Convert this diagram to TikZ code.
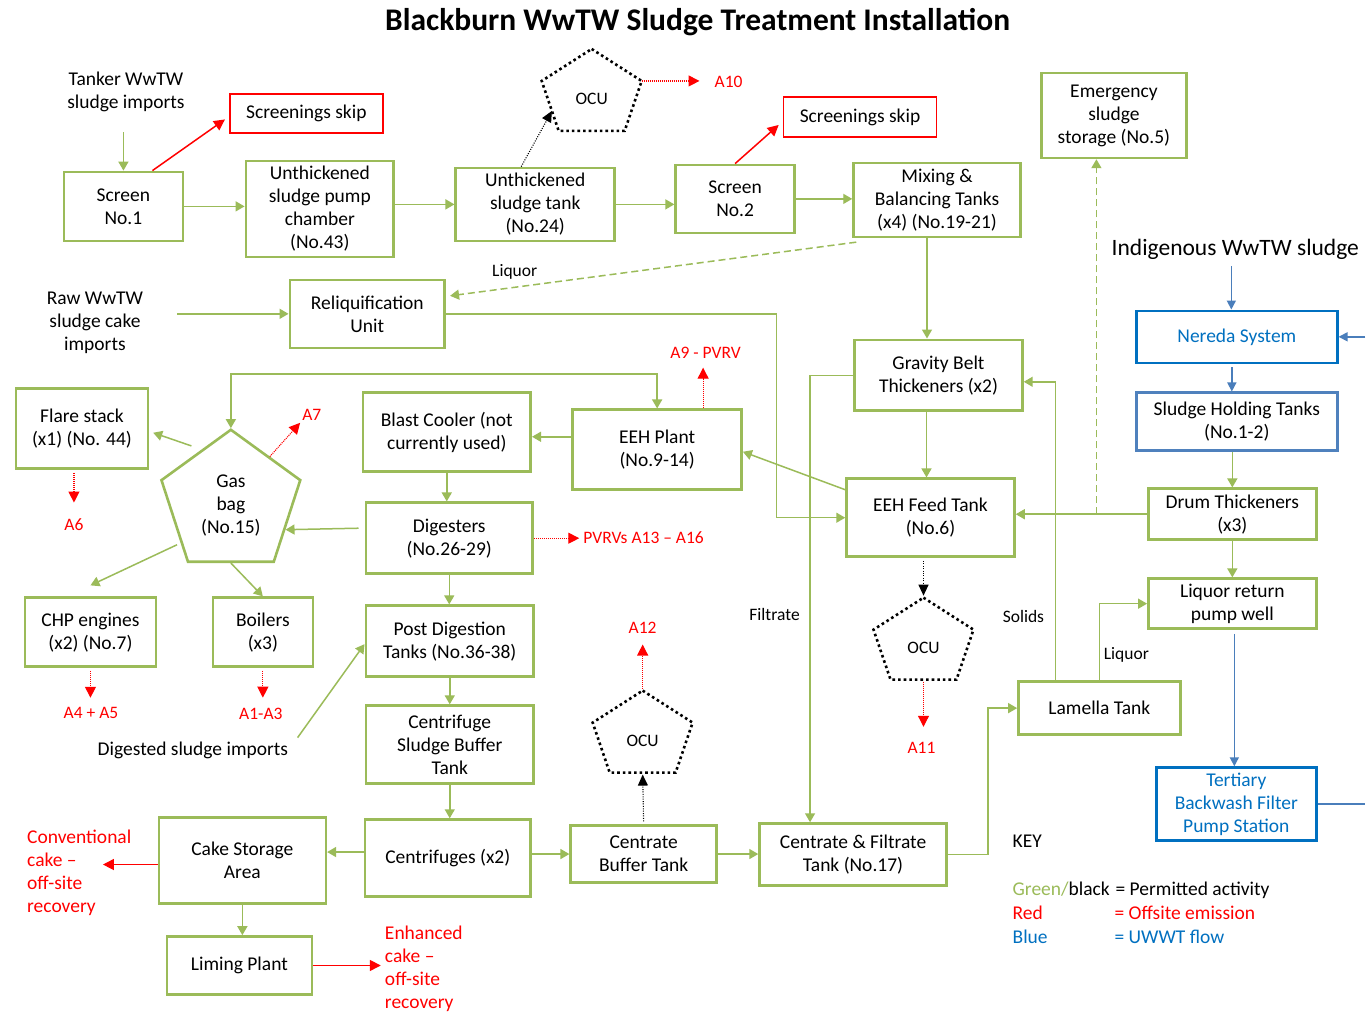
\documentclass[tikz,border=0pt]{standalone}
\usepackage{fontspec}
\setmainfont{Carlito}
\usepackage{tikz}
\usetikzlibrary{arrows.meta,calc,shapes.geometric}
\definecolor{grn}{HTML}{9BBB59}
\definecolor{rd}{HTML}{FF0000}
\definecolor{blu}{HTML}{0070C0}
\definecolor{bluln}{HTML}{4A7EBB}
\definecolor{bluhold}{HTML}{4F81BD}
\newcommand{\bx}{\fontsize{19.5}{23}\selectfont}
\newcommand{\sm}{\fontsize{17.5}{21}\selectfont}
% dotted pentagon round an OCU label
\newcommand{\ocuedge}[1]{%
	\draw[oculine] ($(#1)+(0,-50)$) coordinate (#1-top)
		-- ($(#1)+(50,-18)$) coordinate (#1-ur)
		-- ($(#1)+(33,32)$) coordinate (#1-br)
		-- ($(#1)+(-33,32)$) coordinate (#1-bl)
		-- ($(#1)+(-50,-18)$) coordinate (#1-ul) -- cycle;
	\coordinate (#1-bot) at ($(#1)+(0,32)$);}

\begin{document}
\begin{tikzpicture}[x=1pt, y=-1pt,
	plant/.style={draw=grn, line width=2.6pt, align=center, inner sep=0pt, font=\bx},
	skipbox/.style={draw=rd, line width=1.8pt, inner sep=0pt, font=\bx},
	ububox/.style={draw=blu, line width=2.6pt, align=center, inner sep=0pt, font=\bx, text=blu},
	oculine/.style={draw=black, line width=2.6pt, dash pattern=on 2.6pt off 3pt},
	txt/.style={inner sep=0pt, align=center, font=\bx},
	lbl/.style={inner sep=0pt, font=\sm},
	emit/.style={inner sep=0pt, font=\sm, text=rd},
	flow/.style={draw=grn, line width=1.5pt, -{Triangle[length=9pt,width=10pt]}},
	dashflow/.style={flow, dash pattern=on 7pt off 4pt},
	redflow/.style={draw=rd, line width=1.5pt, -{Triangle[length=11pt,width=11pt]}},
	redline/.style={draw=rd, line width=1.1pt, dash pattern=on 1pt off 1pt, -{Triangle[length=11pt,width=11pt]}},
	blackdot/.style={draw=black, line width=1.1pt, dash pattern=on 1pt off 1.4pt, -{Triangle[length=11pt,width=10pt]}},
	uflow/.style={draw=bluln, line width=1.5pt, -{Triangle[length=9pt,width=9pt]}}]
	\fill[white] (0,0) rectangle (1366,1014);
	\coordinate (rim) at (1366,0);
	\coordinate (convend) at (103,865);

	% texts
	\node[txt, font=\fontsize{31.5}{36}\selectfont\bfseries] (title) at (698,22) {Blackburn WwTW Sludge Treatment Installation};
	\node[txt] (tanker) at (126,92) {Tanker WwTW\\sludge imports};
	\node[txt] (raw) at (95,323) {Raw WwTW\\sludge cake\\imports};
	\node[txt] (digimp) at (193,751) {Digested sludge imports};
	\node[txt, font=\fontsize{23.5}{28}\selectfont] (indig) at (1236,249) {Indigenous WwTW sludge};

	% upper line
	\node[plant, minimum width=119pt, minimum height=69pt] (scr1) at (123.5,206.5) {Screen\\No.1};
	\node[skipbox, minimum width=153pt, minimum height=39pt] (skip1) at (306.5,113.5) {Screenings skip};
	\node[plant, minimum width=148pt, minimum height=96pt] (pumpch) at (320,209) {Unthickened\\sludge pump\\chamber\\(No.43)};
	\node[plant, minimum width=159pt, minimum height=73pt] (uthtank) at (535.5,204.5) {Unthickened\\sludge tank\\(No.24)};
	\node[lbl] (ocu1) at (592,99) {OCU};
	\ocuedge{ocu1}
	\node[plant, minimum width=119pt, minimum height=68pt] (scr2) at (735.5,199) {Screen\\No.2};
	\node[skipbox, minimum width=153pt, minimum height=40pt] (skip2) at (860.5,117) {Screenings skip};
	\node[plant, minimum width=167pt, minimum height=74pt] (mixing) at (937.5,200) {Mixing \&\\Balancing Tanks\\(x4) (No.19-21)};
	\node[plant, minimum width=145pt, minimum height=85pt] (emerg) at (1114.5,115.5) {Emergency\\sludge\\storage (No.5)};
	\node[plant, minimum width=155pt, minimum height=68pt] (reliq) at (367.5,314) {Reliquification\\Unit};

	% right column
	\node[ububox, minimum width=201pt, minimum height=52pt] (nereda) at (1237.5,337) {Nereda System};
	\node[plant, draw=bluhold, minimum width=201pt, minimum height=58pt] (holding) at (1237.5,422) {Sludge Holding Tanks\\(No.1-2)};
	\node[plant, minimum width=168pt, minimum height=51pt] (drum) at (1233,514.5) {Drum Thickeners\\(x3)};
	\node[plant, minimum width=168pt, minimum height=50pt] (liqret) at (1233,604) {Liquor return\\pump well};
	\node[plant, minimum width=162pt, minimum height=53pt] (lamella) at (1100,708.5) {Lamella Tank};
	\node[ububox, minimum width=160pt, minimum height=73pt] (tertiary) at (1237,804.5) {Tertiary\\Backwash Filter\\Pump Station};

	% middle
	\node[plant, minimum width=168pt, minimum height=71pt] (gbt) at (939,375.5) {Gravity Belt\\Thickeners (x2)};
	\node[plant, minimum width=168pt, minimum height=78pt] (eehft) at (931,518) {EEH Feed Tank\\(No.6)};
	\node[lbl] (ocu2) at (924,648) {OCU};
	\ocuedge{ocu2}
	\node[plant, minimum width=187pt, minimum height=62pt] (cft) at (853.5,855) {Centrate \& Filtrate\\Tank (No.17)};
	\node[plant, minimum width=146pt, minimum height=57pt] (cbt) at (644,854.5) {Centrate\\Buffer Tank};
	\node[lbl] (ocu3) at (643,741) {OCU};
	\ocuedge{ocu3}
	\node[plant, minimum width=169pt, minimum height=80pt] (eehp) at (657.5,450) {EEH Plant\\(No.9-14)};
	\node[plant, minimum width=168pt, minimum height=79pt] (blast) at (447,432.5) {Blast Cooler (not\\currently used)};
	\node[plant, minimum width=167pt, minimum height=71pt] (dig) at (449.5,538.5) {Digesters\\(No.26-29)};
	\node[plant, minimum width=168pt, minimum height=71pt] (pdt) at (450,641.5) {Post Digestion\\Tanks (No.36-38)};
	\node[plant, minimum width=168pt, minimum height=78pt] (csbt) at (450,745) {Centrifuge\\Sludge Buffer\\Tank};
	\node[plant, minimum width=166pt, minimum height=77pt] (centrif) at (448,858.5) {Centrifuges (x2)};

	% gas side
	\node[plant, regular polygon, regular polygon sides=5, minimum size=146pt] (gas) at (231,503) {\mbox{}\\[-5pt]Gas\\bag\\(No.15)};
	\node[plant, minimum width=132pt, minimum height=80pt] (flare) at (82,429) {Flare stack\\(x1) (No. 44)};
	\node[plant, minimum width=131pt, minimum height=69pt] (chp) at (90.5,632.5) {CHP engines\\(x2) (No.7)};
	\node[plant, minimum width=100pt, minimum height=69pt] (boil) at (263,632.5) {Boilers\\(x3)};
	\node[plant, minimum width=167pt, minimum height=86pt] (cake) at (242.5,861) {Cake Storage\\Area};
	\node[plant, minimum width=145pt, minimum height=58pt] (liming) at (239.5,966) {Liming Plant};

	% emissions
	\node[emit] (a10) at (729,82) {A10};
	\node[emit] (a9) at (706,353) {A9 - PVRV};
	\node[emit] (a7) at (312,415) {A7};
	\node[emit] (a6) at (74,525) {A6};
	\node[emit] (a45) at (91,713) {A4 + A5};
	\node[emit] (a1) at (261,714) {A1-A3};
	\node[emit] (pvrv) at (644,538) {PVRVs A13 – A16};
	\node[emit] (a12) at (643,628) {A12};
	\node[emit] (a11) at (922,748) {A11};
	\node[txt, anchor=west, align=left, text=rd] (conv) at (27,873) {Conventional\\cake –\\off-site\\recovery};
	\node[txt, anchor=west, align=left, text=rd] (enh) at (385,969.5) {Enhanced\\cake –\\off-site\\recovery};

	% flow labels
	\node[lbl] (liq1) at (515,272) {Liquor};
	\node[lbl] (filt) at (775,615) {Filtrate};
	\node[lbl] (solids) at (1024,617) {Solids};
	\node[lbl] (liq2) at (1127,655) {Liquor};

	% key
	\node[txt, anchor=base west] (key) at (1013,848) {KEY};
	\node[txt, anchor=base west] (kg) at (1013,896) {\textcolor{grn}{Green/}black};
	\node[txt, anchor=base west] (kgt) at (1116,896) {= Permitted activity};
	\node[txt, anchor=base west, text=rd] (kr) at (1013,920) {Red};
	\node[txt, anchor=base west, text=rd] (krt) at (1115,920) {= Offsite emission};
	\node[txt, anchor=base west, text=blu] (kb) at (1013,944) {Blue};
	\node[txt, anchor=base west, text=blu] (kbt) at (1115,944) {= UWWT flow};

	% green flows
	\draw[flow, shorten <=20pt] (tanker.south -| scr1.north) -- (scr1.north);
	\draw[flow] (scr1.east) -- (scr1.east -| pumpch.west);
	\draw[flow] (uthtank.west -| pumpch.east) -- (uthtank.west);
	\draw[flow] (uthtank.east) -- (uthtank.east -| scr2.west);
	\draw[flow] (scr2.east) -- (scr2.east -| mixing.west);
	\draw[dashflow] ($(mixing.south west)+(4,4)$) -- ($(reliq.east)+(4,-18)$);
	\draw[flow] ([xshift=-10pt]mixing.south) -- ([xshift=-10pt]mixing.south |- gbt.north);
	\draw[flow, shorten <=34pt] (raw.east |- reliq.west) -- (reliq.west);
	\draw[flow] (reliq.east) -| ([xshift=-69pt]eehft.west) -- (eehft.west);
	\draw[flow] ([xshift=-4pt]eehft.north |- gbt.south) -- ([xshift=-4pt]eehft.north);
	\draw[flow] (gbt.west) -| ([xshift=-43pt]cft.north);
	\draw[flow] ([yshift=28pt]eehft.west) -- ([yshift=-2pt]eehp.east);
	\draw[flow] (drum.west) -- (drum.west -| eehft.east);
	\draw[dashflow] ([xshift=-17.5pt]emerg.south |- drum.west) -- ([xshift=-17.5pt]emerg.south);
	\draw[flow] (drum.north |- holding.south) -- (drum.north);
	\draw[flow] (drum.south) -- (liqret.north);
	\draw[flow] (lamella.north) |- (liqret.west);
	\draw[flow] ([xshift=-44pt]lamella.north) |- ([yshift=-6.5pt]gbt.east);
	\draw[flow] (cft.east) -| ([xshift=-29pt]lamella.west) -- (lamella.west);
	\draw[flow] (cbt.east) -- (cbt.east -| cft.west);
	\draw[flow] (cbt.west -| centrif.east) -- (cbt.west);
	\draw[flow] ([yshift=6pt]centrif.west) -- ([yshift=6pt]centrif.west -| cake.east);
	\draw[flow] (csbt.south) -- (csbt.south |- centrif.north);
	\draw[flow] (pdt.south) -- (pdt.south |- csbt.north);
	\draw[flow] (dig.south) -- (dig.south |- pdt.north);
	\draw[flow] (blast.south) -- (blast.south |- dig.north);
	\draw[flow] ([yshift=13pt]eehp.west) -- ([yshift=13pt]eehp.west -| blast.east);
	\draw[flow, {Triangle[length=9pt,width=10pt]}-{Triangle[length=9pt,width=10pt]}] (gas.corner 1) -- ++(0,-54) -| (eehp.north);
	\draw[flow] ([xshift=-6pt,yshift=10pt]dig.west) -- ($(gas.corner 5)!0.6!(gas.corner 4)$);
	\draw[flow] ([shift={(-4pt,8pt)}]gas.side 1) -- ([shift={(4pt,-4pt)}]flare.east);
	\draw[flow] ([xshift=-4pt]$(gas.corner 2)!0.78!(gas.corner 3)$) -- ([yshift=11pt]chp.north);
	\draw[flow] (gas.side 3) -- (boil.north);
	\draw[flow, shorten <=16pt] (digimp.east) -- ([yshift=-3pt]pdt.west);
	\draw[flow] (cake.south) -- (cake.south |- liming.north);

	% blue flows
	\draw[uflow, shorten <=7pt] ([xshift=-4pt]indig.south) -- ([xshift=-4pt]indig.south |- nereda.north);
	\draw[uflow, shorten <=3pt] ([xshift=-5pt]nereda.south) -- ([xshift=-5pt]holding.north);
	\draw[uflow, shorten <=4pt] ([xshift=-2pt]tertiary.north |- liqret.south) -- ([xshift=-2pt]tertiary.north);
	\draw[draw=bluln, line width=1.5pt] (tertiary.east) -- (tertiary.east -| rim);
	\draw[uflow] (rim |- nereda.east) -- (nereda.east);

	% red flows
	\draw[redflow] ([xshift=29pt]scr1.north) -- ([shift={(-4pt,-6pt)}]skip1.west);
	\draw[redflow] (scr2.north) -- ([shift={(-4pt,-8pt)}]skip2.west);
	\draw[redflow] ([yshift=-4pt]cake.west) -- (convend);
	\draw[redflow, shorten >=4pt] (liming.east) -- (liming.east -| enh.west);

	% emissions
	\draw[redline, shorten >=15pt] (ocu1-ur) -- (ocu1-ur -| a10.west);
	\draw[redline, shorten >=9pt] ([xshift=46pt]eehp.north) -- ([xshift=46pt]eehp.north |- a9.south);
	\draw[redline, shorten >=3pt] ($(gas.corner 1)!0.55!(gas.corner 5)$) -- (a7.south west);
	\draw[redline, shorten <=3pt, shorten >=16pt] (flare.south -| a6.north) -- (a6.north);
	\draw[redline, shorten <=3pt, shorten >=9pt] (chp.south) -- (chp.south |- a45.north);
	\draw[redline, shorten <=3pt, shorten >=10pt] (boil.south) -- (boil.south |- a1.north);
	\draw[redline, shorten >=4pt] (dig.east) -- (dig.east -| pvrv.west);
	\draw[redline, shorten <=2pt, shorten >=15pt] (ocu2-bot) -- (ocu2-bot |- a11.north);
	\draw[redline, shorten <=2pt, shorten >=11pt] (ocu3-top) -- (ocu3-top |- a12.south);

	% odour control
	\draw[blackdot] ([xshift=-14pt]uthtank.north) -- ($(ocu1-ul)!0.6!(ocu1-bl)$);
	\draw[blackdot, shorten <=3pt, shorten >=2pt] (ocu2-top |- eehft.south) -- (ocu2-top);
	\draw[blackdot, shorten <=3pt, shorten >=2pt] (cbt.north) -- (ocu3-bot);
\end{tikzpicture}
\end{document}
